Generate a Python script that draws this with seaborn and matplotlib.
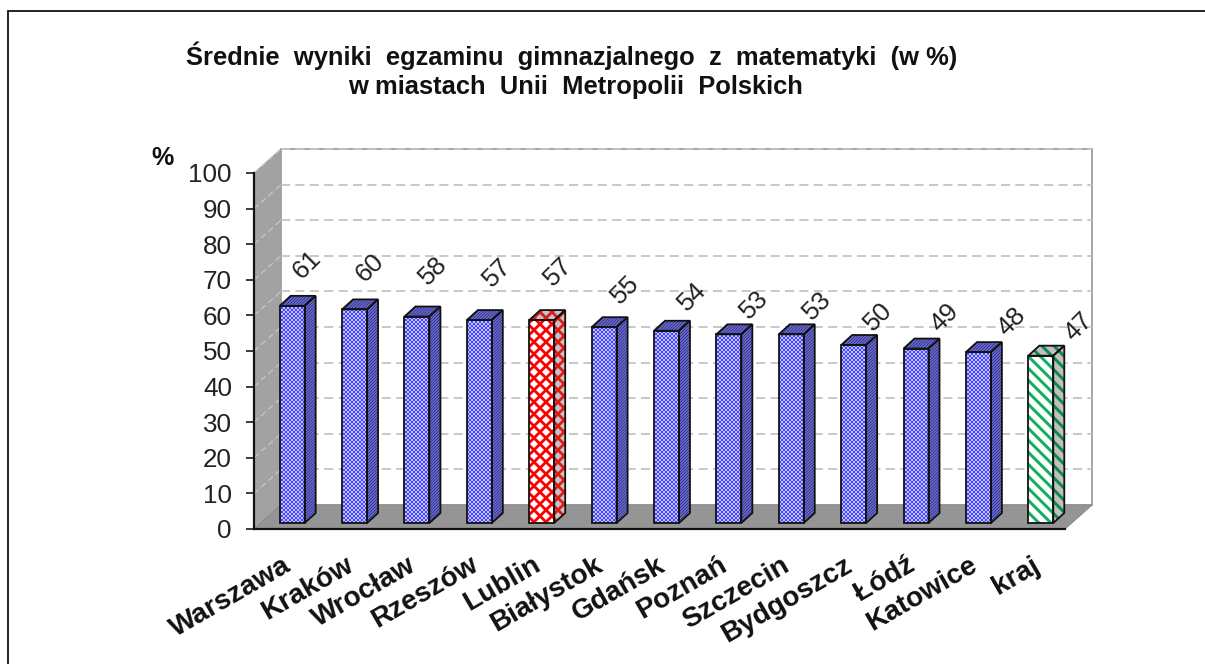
import matplotlib
matplotlib.use("Agg")
import matplotlib.pyplot as plt
from matplotlib.patches import Polygon, Rectangle
from matplotlib.transforms import ScaledTranslation
import seaborn as sns
import numpy as np

cities = ["Warszawa", "Kraków", "Wrocław", "Rzeszów", "Lublin", "Białystok", "Gdańsk",
          "Poznań", "Szczecin", "Bydgoszcz", "Łódź", "Katowice", "kraj"]
values = [61, 60, 58, 57, 57, 55, 54, 53, 53, 50, 49, 48, 47]
y_ticks = [0, 10, 20, 30, 40, 50, 60, 70, 80, 90, 100]

# label offsets from the bar top, in pixels
label_dx = [15, 15, 16, 18, 17, 21, 26, 25, 26, 25, 29, 33, 38]
label_dy = [41, 42, 46, 47, 48, 37, 34, 30, 29, 28, 31, 30, 29]

W, H = 1205, 664

sns.set_style("white")
plt.rcParams["font.family"] = ["Liberation Sans", "DejaVu Sans"]
plt.rcParams["hatch.linewidth"] = 1.0


def px_axes(fig, left, right, top, bottom):
    return fig.add_axes([left / W, 1 - bottom / H, (right - left) / W, (bottom - top) / H])


# dpi 72: one point is one pixel, and a hatch tile is 72 px wide
fig = plt.figure(figsize=(W / 72, H / 72), dpi=72)
fig.patch.set_facecolor("white")

# outer frame
fig.add_artist(Rectangle((8 / W, -0.02), 2, 1 - 11 / H + 0.02, transform=fig.transFigure,
                         fill=False, edgecolor="#111111", linewidth=1.8))

# ── front plane of the 3D box ────────────────────────────
ax = px_axes(fig, 254, 1065, 173, 529)
ax.set_xlim(-0.5, 12.5)
ax.set_ylim(0, 100)
ax.patch.set_alpha(0)

px_x = 811 / 13
px_y = 356 / 100
depth_x = 27 / px_x
depth_y = 24 / px_y

x0, x1 = -0.5, 12.5
# back wall
ax.add_patch(Polygon([(x0 + depth_x, depth_y), (x1 + depth_x, depth_y), (x1 + depth_x, 100 + depth_y),
                      (x0 + depth_x, 100 + depth_y)], closed=True, facecolor="white",
                     edgecolor="#a8a8a8", linewidth=2, clip_on=False, zorder=1))
# left wall
ax.add_patch(Polygon([(x0, 0), (x0 + depth_x, depth_y), (x0 + depth_x, 100 + depth_y), (x0, 100)],
                     closed=True, facecolor="#a2a2a2", edgecolor="#a2a2a2", clip_on=False, zorder=1))
# floor
ax.add_patch(Polygon([(x0, 0), (x1, 0), (x1 + depth_x, depth_y), (x0 + depth_x, depth_y)],
                     closed=True, facecolor="#959595", edgecolor="#888888", linewidth=1,
                     clip_on=False, zorder=1.5))

for t in y_ticks[1:]:
    ax.plot([x0 + depth_x, x1 + depth_x], [t + depth_y, t + depth_y], color="#c4c4c4", lw=1.8,
            ls=(0, (5, 3)), clip_on=False, zorder=1.2)
    ax.plot([x0, x0 + depth_x], [t, t + depth_y], color="#c8c8c8", lw=1.2,
            ls=(0, (5, 3)), clip_on=False, zorder=1.2)

ax.set_yticks(y_ticks)
ax.set_xticks(np.arange(len(cities)))
ax.set_xticks(np.arange(len(cities) + 1) - 0.5, minor=True)
ax.set_xticklabels(cities, rotation=30, ha="right", va="top", rotation_mode="anchor",
                   fontsize=28, fontweight="bold", color="#111111")
ax.tick_params(axis="x", which="major", length=0, pad=23)
ax.tick_params(axis="x", which="minor", length=8, width=1.6, color="#111111")
ax.tick_params(axis="y", length=8, width=1.6, color="#111111", labelsize=26, pad=14, labelcolor="#222222", left=True)
for lab in ax.get_xticklabels():
    lab.set_transform(lab.get_transform() + ScaledTranslation(-3 / 72, 0, fig.dpi_scale_trans))
for side in ["top", "right"]:
    ax.spines[side].set_visible(False)
for side in ["left", "bottom"]:
    ax.spines[side].set_color("#111111")
    ax.spines[side].set_linewidth(2.2)

# ── bars, sitting half way into the box ──────────────────
ax_bar = px_axes(fig, 254 + 7, 1065 + 7, 173 - 6, 529 - 6)
ax_bar.patch.set_alpha(0)
sns.barplot(x=cities, y=values, ax=ax_bar, width=0.4, color="#4a4aff", linewidth=0, saturation=1)
ax_bar.set_xlim(-0.5, 12.5)
ax_bar.set_ylim(0, 100)
ax_bar.axis("off")

bar_depth_x = 11 / px_x
bar_depth_y = 10 / px_y

# front colour, front hatch colour, front hatch, side colour, side hatch colour, side hatch, hatch width
styles = {
    "city": ("#2828ff", "#c0c0ff", "xxxxxx", "#7474c8", "#2c2c98", "////////", 0.9),
    "Lublin": ("white", "#ff0000", "xx", "#c4c4c4", "#e01818", "xx", 2.8),
    "kraj": ("white", "#10b060", "\\\\", "#c0c0c0", "#108850", "\\\\", 3.0),
}

for i, (bar, val) in enumerate(zip(ax_bar.patches, values)):
    st = styles.get(cities[i], styles["city"])
    bx, bw, bh = bar.get_x(), bar.get_width(), bar.get_height()
    bar.set_facecolor(st[0])
    bar.set_edgecolor(st[1])
    bar.set_hatch(st[2])
    bar.set_linewidth(0)
    bar._hatch_linewidth = st[6]
    side = [(bx + bw, 0), (bx + bw + bar_depth_x, bar_depth_y), (bx + bw + bar_depth_x, bh + bar_depth_y), (bx + bw, bh)]
    top = [(bx, bh), (bx + bw, bh), (bx + bw + bar_depth_x, bh + bar_depth_y), (bx + bar_depth_x, bh + bar_depth_y)]
    for pts in (side, top):
        face = Polygon(pts, closed=True, facecolor=st[3], edgecolor=st[4], hatch=st[5],
                       linewidth=0, clip_on=False, zorder=3)
        face._hatch_linewidth = st[6]
        ax_bar.add_patch(face)
        ax_bar.add_patch(Polygon(pts, closed=True, fill=False, edgecolor="#111111", linewidth=1.8,
                                 clip_on=False, zorder=3.5))
    ax_bar.add_patch(Rectangle((bx, 0), bw, bh, fill=False, edgecolor="#111111", linewidth=1.8,
                               clip_on=False, zorder=3.5))
    ax_bar.annotate(str(val), xy=(i, bh), xytext=(label_dx[i], label_dy[i]),
                    textcoords="offset points", rotation=45, ha="center", va="center",
                    fontsize=26, color="#222222", annotation_clip=False, zorder=5)

# ── titles ───────────────────────────────────────────────
fig.text(572 / W, 1 - 56 / H, "Średnie  wyniki  egzaminu  gimnazjalnego  z  matematyki  (w %)",
         ha="center", va="center", fontsize=25.5, fontweight="bold", color="#111111")
fig.text(576 / W, 1 - 87 / H, "w miastach  Unii  Metropolii  Polskich",
         ha="center", va="center", fontsize=25.5, fontweight="bold", color="#111111")
fig.text(162 / W, 1 - 158 / H, "%", ha="center", va="center", fontsize=25, fontweight="bold", color="#111111")

fig.savefig("out.png", dpi=72)
